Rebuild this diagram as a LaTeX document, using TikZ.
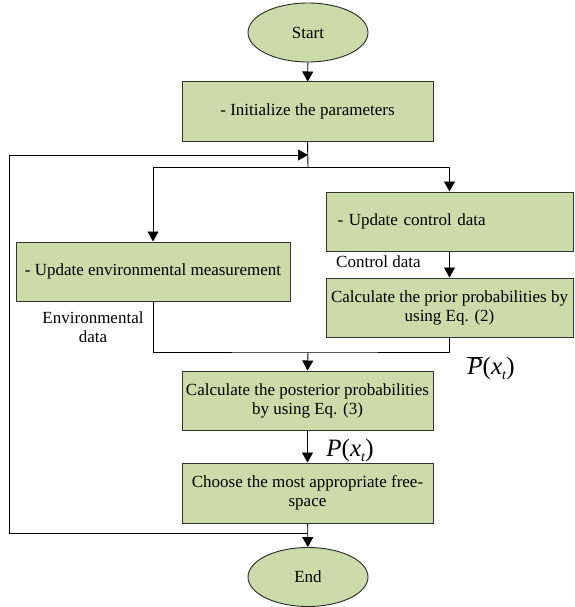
\documentclass[tikz,border=0pt]{standalone}
\usepackage{fontspec}
\setmainfont{Liberation Serif}
\usetikzlibrary{arrows.meta,shapes.geometric,calc}
\definecolor{boxgreen}{RGB}{204,219,170}
\newcommand{\subt}{\raisebox{-5pt}{\fontsize{14}{14}\selectfont\textit{t}}}
\tikzset{
  procbox/.style={draw=black!80, fill=boxgreen, line width=1pt, rectangle, inner sep=0pt, align=center,
    font=\fontsize{17}{19}\selectfont},
  termnode/.style={draw=black!85, fill=boxgreen, line width=0.9pt, ellipse, inner sep=0pt,
    minimum width=120pt, minimum height=59pt, font=\fontsize{17}{19}\selectfont},
  flow/.style={draw=black, line width=0.9pt},
  arr/.style={flow, -{Triangle[length=10pt,width=11pt]}},
  lbl/.style={inner sep=0pt, align=center, font=\fontsize{17}{19}\selectfont},
  mlbl/.style={inner sep=0pt, font=\fontsize{25}{27}\selectfont},
}
\begin{document}
\begin{tikzpicture}[x=1pt,y=-1pt]
\useasboundingbox (0,0) rectangle (574,607);
\node[termnode] (start) at (308,32.5) {Start};
\node[procbox, minimum width=251pt, minimum height=59pt] (init) at (307.5,111.5) {- Initialize the parameters};
\node[procbox, minimum width=274pt, minimum height=59pt] (env) at (153,271.5) {- Update environmental measurement};
\node[procbox, minimum height=59pt, text width=224pt, inner xsep=11.5pt, align=left] (ctrl) at (449.5,221.5) {- Update control data};
\node[procbox, minimum width=247pt, minimum height=59pt] (prior) at (449.5,307.5) {Calculate the prior probabilities by\\using Eq. (2)};
\node[procbox, minimum width=251pt, minimum height=59pt] (post) at (307.5,400.5) {Calculate the posterior probabilities\\by using Eq. (3)};
\node[procbox, minimum width=251pt, minimum height=60pt] (choose) at (307.5,493) {Choose the most appropriate free-\\space};
\node[termnode] (end) at (308,577) {End};

\node[lbl, anchor=west] (ctrllbl) at (336,262) {Control data};
\node[lbl] (envlbl) at (93,327.5) {Environmental\\data};
\node[mlbl] (pbar) at (491,368) {$\overline{\mbox{\textit{P}}}$(\textit{x}\subt)};
\node[mlbl] (pxt) at (350,450) {\textit{P}(\textit{x}\subt)};

\coordinate (br) at (308,167);
\coordinate (lt) at (308,155);
\coordinate (j) at (308,352);
\coordinate (lb) at (308,533);
\coordinate (lc1) at (9,533);
\coordinate (lc2) at (9,155);

\draw[arr] (start) -- (init);
\draw[flow] (init.south) -- (br);
\draw[arr] (br) -| (env.north);
\draw[arr] (br) -| (ctrl.north);
\draw[arr] (ctrl) -- (prior);
\draw[flow] (env.south) |- (j) -| (prior.south);
\draw[arr] (j) -- (post.north);
\draw[arr] (post) -- (choose);
\draw[arr] (choose) -- (end);
\draw[arr] (lb) -- (lc1) -- (lc2) -- (lt);
\end{tikzpicture}
\end{document}
